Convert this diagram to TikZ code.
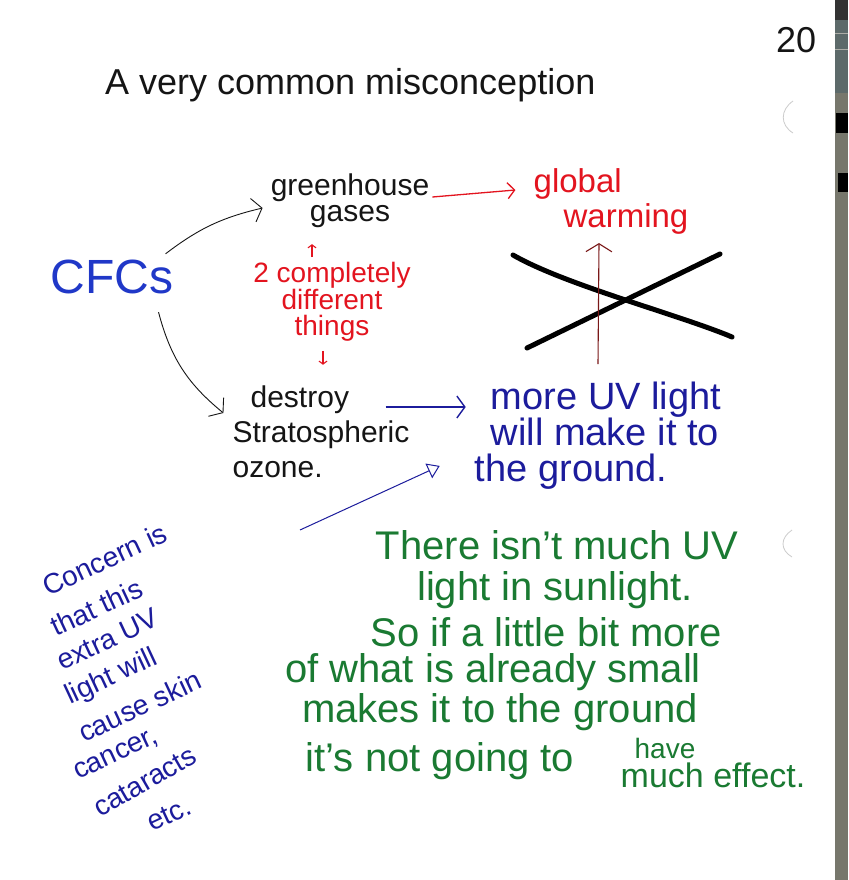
\documentclass[tikz,border=0pt]{standalone}
\usepackage{fontspec}
\setmainfont{Liberation Sans}
\usepackage{xcolor}
\usetikzlibrary{arrows.meta,positioning}
\definecolor{inkblack}{HTML}{151515}
\definecolor{inkred}{HTML}{E3141F}
\definecolor{inkblue}{HTML}{1C1C9C}
\definecolor{cfcblue}{HTML}{2038C8}
\definecolor{inkgreen}{HTML}{1A7A32}
\definecolor{inkbrown}{HTML}{7A1818}
\definecolor{edgegray}{HTML}{77776C}
\definecolor{edgeteal}{HTML}{5D6A6A}
\newcommand{\inkfont}[2]{\fontsize{#1}{#2}\selectfont}

\begin{document}
\begin{tikzpicture}[x=1pt, y=-1pt,
    heading/.style={inner sep=0pt, text=inkblack, font=\inkfont{36}{40}},
    cfcs/.style={inner sep=0pt, text=cfcblue, font=\inkfont{48}{50}},
    blacknote/.style={inner sep=0pt, text=inkblack},
    rednote/.style={inner sep=0pt, text=inkred},
    bluenote/.style={inner sep=0pt, text=inkblue},
    greennote/.style={inner sep=0pt, text=inkgreen},
    concernnote/.style={inner sep=0pt, text=inkblue, font=\inkfont{28}{28}, anchor=base west},
    cfcarrow/.style={draw=inkblack, line width=0.9pt, -{Straight Barb[length=9pt,width=24pt]}},
    redarrow/.style={draw=inkred, line width=1.3pt, -{Straight Barb[length=7pt,width=16pt]}},
    tinyarrow/.style={draw=inkred, line width=1.1pt, -{Straight Barb[length=3pt,width=8pt]}},
    bluearrow/.style={draw=inkblue, line width=1.4pt, -{Straight Barb[length=8pt,width=22pt]}},
    uparrow/.style={draw=inkbrown, line width=1.1pt, -{Straight Barb[length=8pt,width=26pt]}},
    pointer/.style={draw=inkblue, line width=1pt, -{Triangle[open,length=12pt,width=16pt]}},
    xmark/.style={draw=black, line width=5pt, line cap=round}
]
\useasboundingbox (0,0) rectangle (848,880);
\fill[white] (0,0) rectangle (848,880);

% paper edge
\fill[edgegray] (835,0) rectangle (848,880);
\fill[edgeteal] (835,0) rectangle (848,93);
\fill[black!80] (835,0) rectangle (848,20);
\draw[edgegray!60!white, line width=1pt] (835,34) -- (848,34) (835,50) -- (848,50);
\fill[black] (836,113) rectangle (848,133);
\fill[black] (838,173) rectangle (848,192);
\draw[black!20, line width=0.8pt] (793,101) .. controls (780,110) and (780,125) .. (793,133);
\draw[black!20, line width=0.8pt] (792,530) .. controls (780,538) and (780,550) .. (792,557);

% Nodes
\node[heading, anchor=base west] (title) at (105,95) {A very common misconception};
\node[heading, anchor=base west] (page) at (776,53) {20};
\node[cfcs] (cfc) at (112,277) {CFCs};
\node[blacknote, align=center, font=\inkfont{30}{26}] (gh) at (350,201) {greenhouse\\gases};
\node[rednote, align=left, font=\inkfont{33}{35}] (gw) at (611,201) {global\\\hspace*{30pt}warming};
\node[rednote, align=center, font=\inkfont{28}{26}] (diff) at (332,302) {2 completely\\different\\things};
\node[blacknote, align=left, font=\inkfont{30}{35}] (ozone) at (321,432) {\hspace*{18pt}destroy\\Stratospheric\\ozone.};
\node[bluenote, align=left, font=\inkfont{38}{36}] (uv) at (598,436) {\hspace*{16pt}more UV light\\\hspace*{16pt}will make it to\\the ground.};
\coordinate (uvtail) at (300,530);

\foreach \words/\x/\y/\a [count=\i] in {Concern is/48/597/25, that this/56/637/25,
    extra UV/62/671/25, light will/70/705/25, cause skin/84/743/25,
    {cancer,}/78/780/25, cataracts/100/818/30, etc./152/832/25}
  \node[concernnote, rotate=\a] (concern\i) at (\x,\y) {\words};

\foreach \words/\x/\y/\s [count=\i] in {There isn't much UV/557/545/40,
    light in sunlight./555/590/40, So if a little bit more/546/632/40,
    of what is already small/493/672/40, makes it to the ground/500/712/40,
    it's not going to/440/761/40, have/665/748/28, much effect./713/775/34}
  \node[greennote, font=\inkfont{\s}{\s}] (green\i) at (\x,\y) {\words};

% the crossed out link
\draw[xmark] (513,255) .. controls (565,285) and (680,315) .. (732,337);
\draw[xmark] (527,348) -- (720,254);

% Arrows
\draw[cfcarrow] ([shift={(-8,-6)}]cfc.north east) to[bend left=12] ([shift={(-8,7)}]gh.west);
\draw[cfcarrow] ([shift={(-15,18)}]cfc.south east) to[bend right=18] ([shift={(-9,-19)}]ozone.west);
\draw[redarrow] ([shift={(3,-4)}]gh.east) -- ([shift={(-18,-11)}]gw.west);
\draw[tinyarrow] ([shift={(-20,-5)}]diff.north) -- ([shift={(-38,16)}]gh.south);
\draw[tinyarrow] ([shift={(-9,9)}]diff.south) -- ([shift={(2,-21)}]ozone.north);
\draw[bluearrow] ([shift={(-24,-25)}]ozone.east) -- ([shift={(-9,-29)}]uv.west);
\draw[uparrow] ([shift={(0,-18)}]uv.north) -- ([shift={(-12,9)}]gw.south);
\draw[pointer] (uvtail) -- ([shift={(-35,-24)}]uv.south west);
\end{tikzpicture}
\end{document}
